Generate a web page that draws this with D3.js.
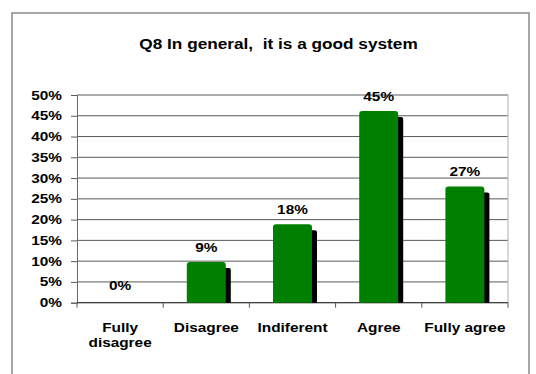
<!DOCTYPE html>
<html>
<head>
<meta charset="utf-8">
<script src="https://cdn.jsdelivr.net/npm/d3@7"></script>
<style>
  html, body { margin: 0; padding: 0; background: #fff; }
  svg { display: block; }
  text { font-family: "Liberation Sans", Arial, sans-serif; font-weight: bold; fill: #000; }
</style>
</head>
<body>
<svg id="chart" width="536" height="374"></svg>
<script>
// Survey answers for Q8 (share of respondents)
const categories = [["Fully", "disagree"], ["Disagree"], ["Indiferent"], ["Agree"], ["Fully agree"]];
const values = [0, 0.0909, 0.1818, 0.4545, 0.2727];
const yTicks = [0, 0.05, 0.10, 0.15, 0.20, 0.25, 0.30, 0.35, 0.40, 0.45, 0.50];
const title = "Q8 In general,  it is a good system";

const W = 536, H = 374;
const plot = { left: 77, right: 508, top: 95, bottom: 302.7 };
const stretch = 1.23;   // horizontal widening of all lettering
const green = "#008000";

const svg = d3.select("#chart");

// outer frame
svg.append("rect")
  .attr("x", 12).attr("y", 13).attr("width", 517).attr("height", 380)
  .attr("fill", "#fff").attr("stroke", "#8a8a8a").attr("stroke-width", 1.5);

const x = d3.scaleBand()
  .domain(d3.range(categories.length))
  .range([plot.left, plot.right])
  .paddingInner(0).paddingOuter(0);

const y = d3.scaleLinear().domain([0, 0.5]).range([plot.bottom, plot.top]);

// helper: widened text centred / anchored at (px, py)
function label(g, px, py, str, size, anchor) {
  const t = g.append("g")
    .attr("transform", `translate(${px},${py}) scale(${stretch},1)`)
    .append("text")
    .attr("font-size", size)
    .attr("text-anchor", anchor || "middle")
    .text(str);
  return t;
}

// title
label(svg, 278.5, 49, title, 14).style("white-space", "pre");

// horizontal gridlines
svg.append("g")
  .selectAll("line")
  .data(yTicks)
  .join("line")
  .attr("x1", plot.left).attr("x2", plot.right)
  .attr("y1", d => y(d)).attr("y2", d => y(d))
  .attr("stroke", "#5a5a5a").attr("stroke-width", 1);

// right border of plot area
svg.append("line")
  .attr("x1", plot.right).attr("x2", plot.right)
  .attr("y1", plot.top).attr("y2", plot.bottom)
  .attr("stroke", "#b0b0b0").attr("stroke-width", 1);

// y axis
const yAxis = d3.axisLeft(y).tickValues(yTicks).tickSize(6).tickFormat("");
const ya = svg.append("g").attr("transform", `translate(${plot.left},0)`).call(yAxis);
ya.select(".domain").attr("stroke", "#6a6a6a");
ya.selectAll(".tick line").attr("stroke", "#5a5a5a");
const fmt = d3.format(".0%");
yTicks.forEach(t => label(svg, 62, y(t) + 4.5, fmt(t), 12.5, "end"));

// x axis with ticks at category boundaries
const bounds = d3.range(categories.length + 1).map(i => plot.left + i * x.step());
svg.append("line")
  .attr("x1", plot.left).attr("x2", plot.right)
  .attr("y1", plot.bottom).attr("y2", plot.bottom)
  .attr("stroke", "#333").attr("stroke-width", 1);
svg.append("g").selectAll("line")
  .data(bounds)
  .join("line")
  .attr("x1", d => d).attr("x2", d => d)
  .attr("y1", plot.bottom).attr("y2", plot.bottom + 5)
  .attr("stroke", "#555");

// bars: black drop shadow then rounded green face
const barW = 39;
const lift = 3, shadowDx = 5, shadowDy = 3;
function roundTopPath(x0, y0, w, y1, r) {
  const h = y1 - y0;
  if (h <= 0) return "";
  r = Math.min(r, h, w / 2);
  return `M${x0},${y1}V${y0 + r}Q${x0},${y0} ${x0 + r},${y0}H${x0 + w - r}Q${x0 + w},${y0} ${x0 + w},${y0 + r}V${y1}Z`;
}
const bars = svg.append("g");
values.forEach((v, i) => {
  if (v <= 0) return;
  const cx = x(i) + x.bandwidth() / 2;
  bars.append("path")
    .attr("d", roundTopPath(cx - barW / 2 + shadowDx, y(v) + shadowDy, barW, plot.bottom, 2))
    .attr("fill", "#000");
  bars.append("path")
    .attr("d", roundTopPath(cx - barW / 2, y(v) - lift, barW, plot.bottom, 3))
    .attr("fill", green);
});

// value labels
values.forEach((v, i) => {
  const cx = x(i) + x.bandwidth() / 2;
  label(svg, cx, y(v) - 13, fmt(v), 12.5);
});

// category labels
categories.forEach((lines, i) => {
  const cx = x(i) + x.bandwidth() / 2;
  lines.forEach((s, k) => label(svg, cx, 332 + k * 14.5, s, 12.5));
});
</script>
</body>
</html>
